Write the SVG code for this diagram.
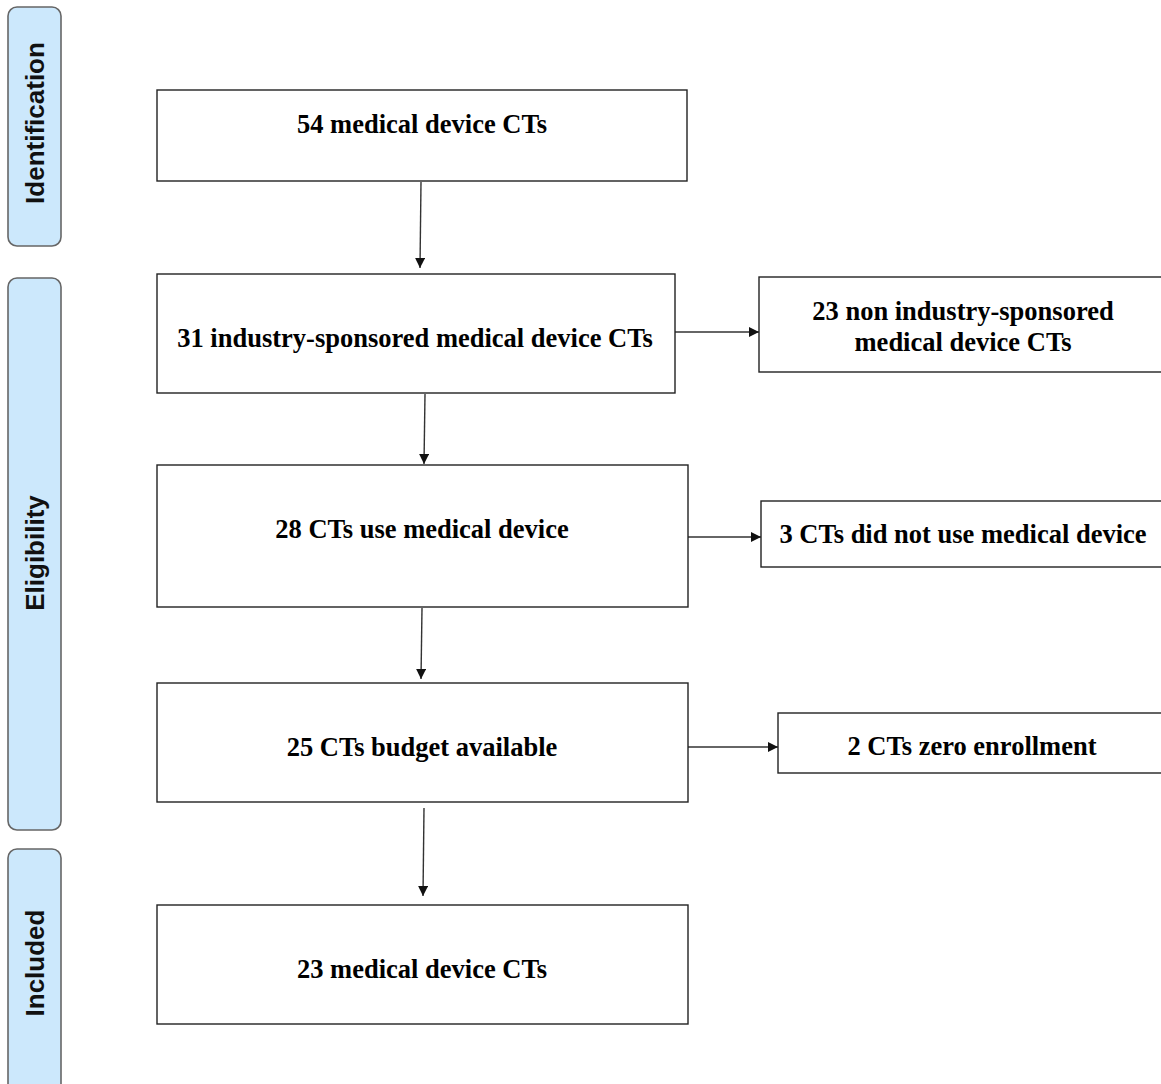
<svg xmlns="http://www.w3.org/2000/svg" width="1161" height="1084" viewBox="0 0 1161 1084">
<style>
.phase{fill:#cce8fc;stroke:#666;stroke-width:1.6}
.ptxt{font-family:"Liberation Sans",Arial,sans-serif;font-size:26px;font-weight:bold;fill:#111;text-anchor:middle;dominant-baseline:central}
.box{fill:#fff;stroke:#222;stroke-width:1.4}
.btxt{font-family:"Liberation Serif","Times New Roman",serif;font-size:26.5px;font-weight:bold;fill:#000;text-anchor:middle}
.conn{stroke:#333;stroke-width:1.4;fill:none;marker-end:url(#ah)}
</style>
<defs>
<marker id="ah" viewBox="0 0 10 10" refX="10" refY="5" markerWidth="11" markerHeight="10" markerUnits="userSpaceOnUse" orient="auto">
<path d="M0,0 L10,5 L0,10 z" fill="#111"/>
</marker>
</defs>
<rect width="1161" height="1084" fill="#fff"/>
<g id="phase-identification">
<rect class="phase" x="8" y="7" width="53" height="239" rx="9"/>
<text class="ptxt" transform="translate(35,123) rotate(-90)">Identification</text>
</g>
<g id="phase-eligibility">
<rect class="phase" x="8" y="278" width="53" height="552" rx="9"/>
<text class="ptxt" transform="translate(35,553) rotate(-90)">Eligibility</text>
</g>
<g id="phase-included">
<rect class="phase" x="8" y="849" width="53" height="250" rx="9"/>
<text class="ptxt" transform="translate(35,963) rotate(-90)">Included</text>
</g>
<g id="connectors">
<line class="conn" x1="421" y1="182" x2="420" y2="268"/>
<line class="conn" x1="675" y1="332" x2="759" y2="332"/>
<line class="conn" x1="425" y1="394" x2="424" y2="464"/>
<line class="conn" x1="688" y1="537" x2="761" y2="537"/>
<line class="conn" x1="422" y1="608" x2="421" y2="679"/>
<line class="conn" x1="688" y1="747" x2="778" y2="747"/>
<line class="conn" x1="424" y1="808" x2="423" y2="896"/>
</g>
<g id="n1">
<rect class="box" x="157" y="90" width="530" height="91"/>
<text class="btxt" x="422" y="133">54 medical device CTs</text>
</g>
<g id="n2">
<rect class="box" x="157" y="274" width="518" height="119"/>
<text class="btxt" x="415" y="347">31 industry-sponsored medical device CTs</text>
</g>
<g id="n3">
<rect class="box" x="759" y="277" width="420" height="95"/>
<text class="btxt" x="963" y="320">23 non industry-sponsored</text>
<text class="btxt" x="963" y="351">medical device CTs</text>
</g>
<g id="n4">
<rect class="box" x="157" y="465" width="531" height="142"/>
<text class="btxt" x="422" y="538">28 CTs use medical device</text>
</g>
<g id="n5">
<rect class="box" x="761" y="501" width="420" height="66"/>
<text class="btxt" x="963" y="543">3 CTs did not use medical device</text>
</g>
<g id="n6">
<rect class="box" x="157" y="683" width="531" height="119"/>
<text class="btxt" x="422" y="756">25 CTs budget available</text>
</g>
<g id="n7">
<rect class="box" x="778" y="713" width="400" height="60"/>
<text class="btxt" x="972" y="755">2 CTs zero enrollment</text>
</g>
<g id="n8">
<rect class="box" x="157" y="905" width="531" height="119"/>
<text class="btxt" x="422" y="978">23 medical device CTs</text>
</g>
</svg>
